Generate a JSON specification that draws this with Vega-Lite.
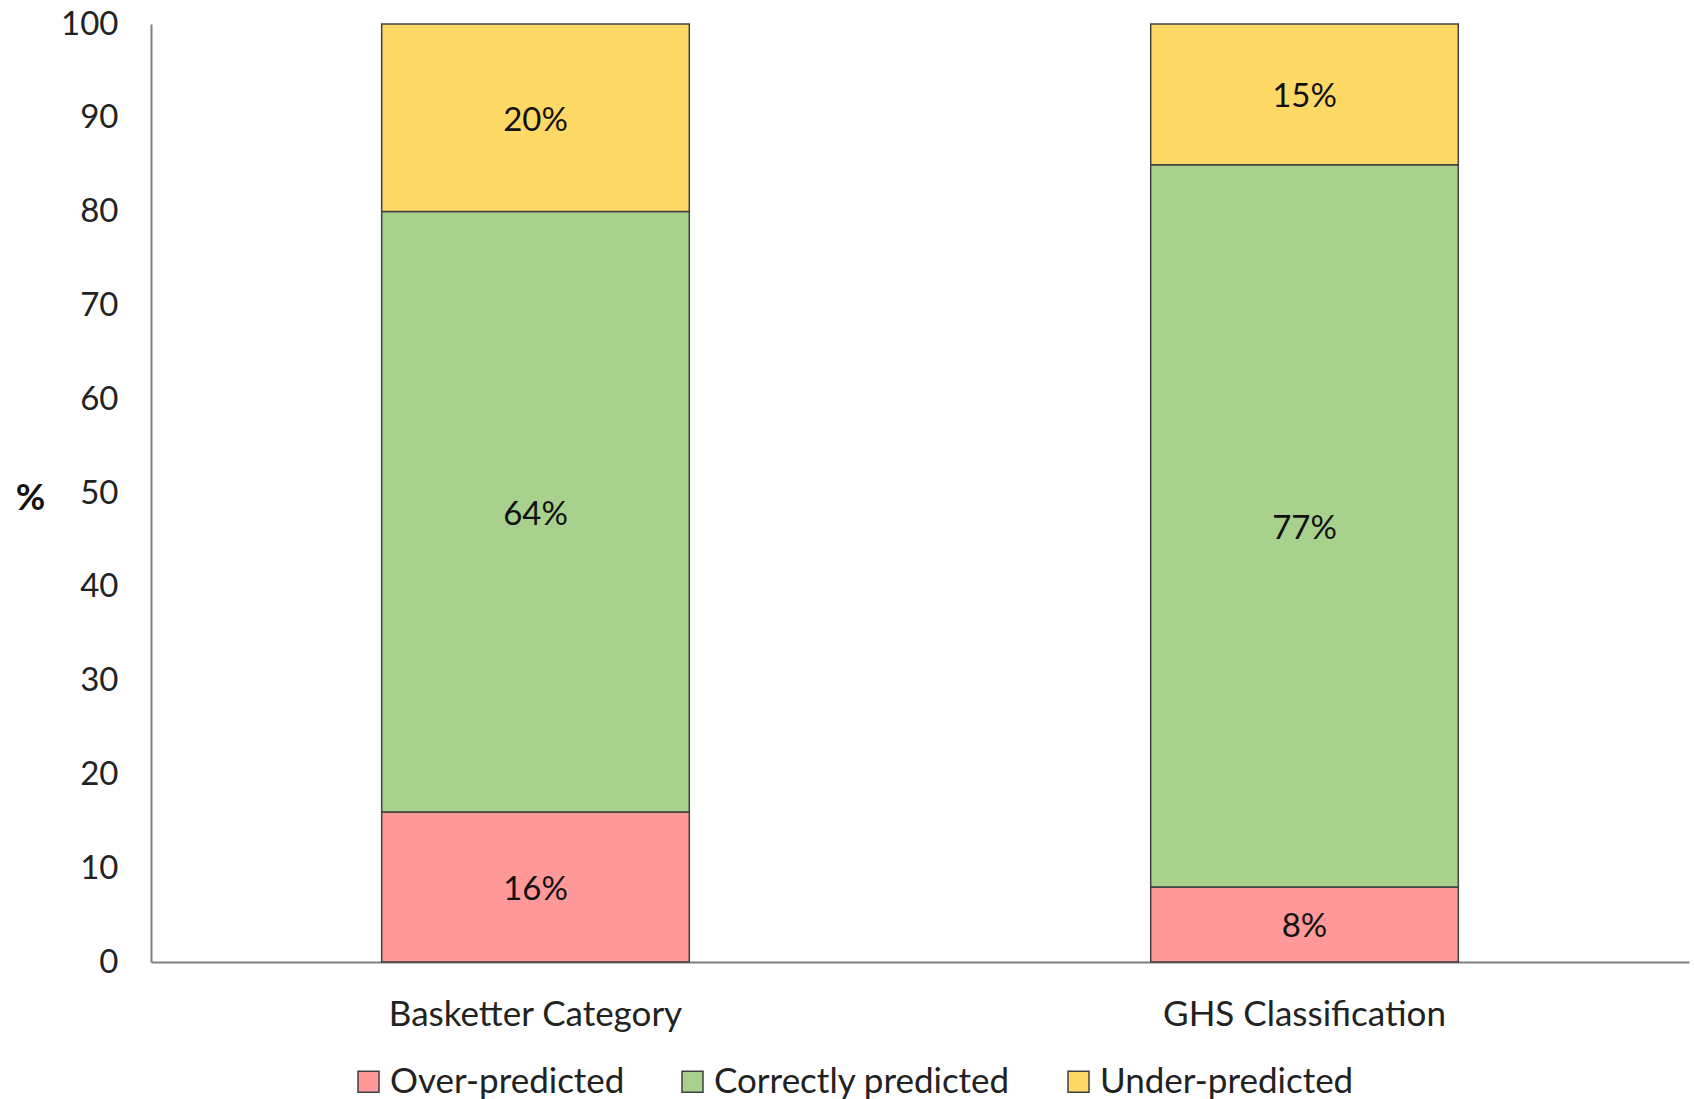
{
  "$schema": "https://vega.github.io/schema/vega-lite/v6.json",
  "width": 1538,
  "height": 938,
  "autosize": "none",
  "padding": {"left": 151, "top": 24, "right": 5, "bottom": 137},
  "background": "white",
  "config": {"view": {"stroke": null}, "font": "Lato"},
  "data": {"values": [
    {"group": "Basketter Category", "outcome": "Over-predicted", "order": 1, "value": 16},
    {"group": "Basketter Category", "outcome": "Correctly predicted", "order": 2, "value": 64},
    {"group": "Basketter Category", "outcome": "Under-predicted", "order": 3, "value": 20},
    {"group": "GHS Classification", "outcome": "Over-predicted", "order": 1, "value": 8},
    {"group": "GHS Classification", "outcome": "Correctly predicted", "order": 2, "value": 77},
    {"group": "GHS Classification", "outcome": "Under-predicted", "order": 3, "value": 15}
  ]},
  "transform": [
    {"stack": "value", "groupby": ["group"], "sort": [{"field": "order", "order": "ascending"}], "as": ["y0", "y1"]},
    {"calculate": "(datum.y0 + datum.y1) / 2", "as": "mid"},
    {"calculate": "datum.value + '%'", "as": "label"}
  ],
  "encoding": {
    "x": {
      "field": "group", "type": "nominal", "sort": null,
      "scale": {"paddingInner": 0, "paddingOuter": 0},
      "axis": {
        "title": null, "labelAngle": 0, "labelFontSize": 35, "labelColor": "#222",
        "labelPadding": 35, "labelLimit": 0, "ticks": false, "domainColor": "#7f7f7f", "domainWidth": 2,
        "labelFont": "Lato"
      }
    }
  },
  "layer": [
    {
      "mark": {"type": "bar", "width": {"band": 0.4}, "stroke": "#404040", "strokeWidth": 1.5},
      "encoding": {
        "y": {
          "field": "y0", "type": "quantitative",
          "scale": {"domain": [0, 100], "nice": false},
          "axis": {
            "values": [0, 10, 20, 30, 40, 50, 60, 70, 80, 90, 100],
            "grid": false, "ticks": false, "labelFontSize": 33, "labelColor": "#222",
            "labelPadding": 33, "domainColor": "#7f7f7f", "domainWidth": 2,
            "title": "%", "titleAngle": 0, "titleFontSize": 36, "titleFontWeight": "bold",
            "titleColor": "#111", "titleX": -121, "titleY": 474,
            "titleAlign": "center", "titleBaseline": "middle"
          }
        },
        "y2": {"field": "y1"},
        "color": {
          "field": "outcome", "type": "nominal",
          "sort": ["Over-predicted", "Correctly predicted", "Under-predicted"],
          "scale": {
            "domain": ["Over-predicted", "Correctly predicted", "Under-predicted"],
            "range": ["#FF9999", "#A9D18E", "#FFD966"]
          },
          "legend": {
            "title": null, "orient": "none", "direction": "horizontal",
            "legendX": 200, "legendY": 1040,
            "symbolType": "square", "symbolSize": 441, "symbolStrokeColor": "#404040",
            "symbolStrokeWidth": 1.5, "labelFontSize": 35, "labelColor": "#222",
            "labelFont": "Lato", "labelLimit": 0, "columnPadding": 50, "labelOffset": 4
          }
        }
      }
    },
    {
      "mark": {"type": "text", "fontSize": 33, "color": "#111", "font": "Lato", "baseline": "middle", "dy": 3},
      "encoding": {
        "y": {"field": "mid", "type": "quantitative"},
        "text": {"field": "label"}
      }
    }
  ]
}
